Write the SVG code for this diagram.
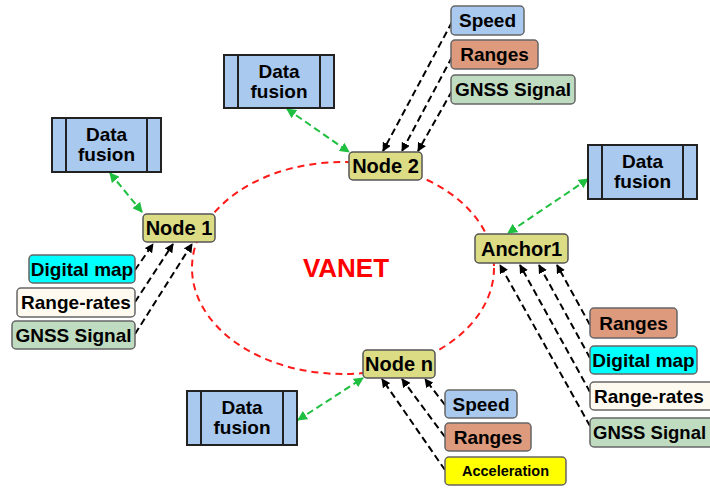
<svg xmlns="http://www.w3.org/2000/svg" width="710" height="488" viewBox="0 0 710 488">
<style>
.df rect{fill:#a9c9ef;stroke:#222;stroke-width:2}
.df line{stroke:#222;stroke-width:2}
.df text{font-family:"Liberation Sans",Arial,sans-serif;font-weight:bold;font-size:19px;fill:#000;text-anchor:middle}
.nd rect{fill:#dcdc84;stroke:#555;stroke-width:1.5}
.nd text{font-family:"Liberation Sans",Arial,sans-serif;font-weight:bold;font-size:20px;fill:#000;text-anchor:middle}
.in rect{stroke:#666;stroke-width:1.5}
.in text{font-family:"Liberation Sans",Arial,sans-serif;font-weight:bold;font-size:19px;fill:#000;text-anchor:middle}
.blk{stroke:#000;stroke-width:2;stroke-dasharray:7,4;fill:none;marker-end:url(#ab)}
.grn{stroke:#1fbf3f;stroke-width:2;stroke-dasharray:7,4;fill:none;marker-end:url(#ag);marker-start:url(#ag)}
.spd{fill:#a9c9ef}.rng{fill:#dd9a7c}.gns{fill:#c0dcc0}.dm{fill:#00ffff}.rr{fill:#fffaf0}.acc{fill:#ffff00}
</style>
<defs>
<marker id="ab" viewBox="0 0 10 10" refX="9" refY="5" markerWidth="9" markerHeight="9" markerUnits="userSpaceOnUse" orient="auto"><path d="M0,0 L10,5 L0,10 z" fill="#000"/></marker>
<marker id="ag" viewBox="0 0 10 10" refX="9" refY="5" markerWidth="10" markerHeight="10" markerUnits="userSpaceOnUse" orient="auto-start-reverse"><path d="M0,0 L10,5 L0,10 z" fill="#1fbf3f"/></marker>
</defs>
<rect width="710" height="488" fill="#fff"/>
<ellipse cx="343" cy="268" rx="151" ry="106" fill="none" stroke="#ff1a1a" stroke-width="2" stroke-dasharray="7,5"/>
<text x="346" y="277" font-family="'Liberation Sans',Arial,sans-serif" font-weight="bold" font-size="26" fill="#ff0000" text-anchor="middle">VANET</text>
<g id="connectors">
<line class="blk" x1="452" y1="22" x2="383" y2="151"/>
<line class="blk" x1="452" y1="57" x2="402" y2="151"/>
<line class="blk" x1="452" y1="91" x2="418" y2="151"/>
<line class="blk" x1="135" y1="270" x2="153" y2="244"/>
<line class="blk" x1="135" y1="302" x2="173" y2="244"/>
<line class="blk" x1="135" y1="334" x2="192" y2="244"/>
<line class="blk" x1="590" y1="325" x2="557" y2="265"/>
<line class="blk" x1="590" y1="358" x2="539" y2="265"/>
<line class="blk" x1="590" y1="392" x2="520" y2="265"/>
<line class="blk" x1="590" y1="426" x2="500" y2="265"/>
<line class="blk" x1="445" y1="405" x2="425" y2="379"/>
<line class="blk" x1="445" y1="437" x2="402" y2="379"/>
<line class="blk" x1="445" y1="470" x2="382" y2="379"/>
<line class="grn" x1="287" y1="109" x2="349" y2="152"/>
<line class="grn" x1="110" y1="173" x2="142" y2="212"/>
<line class="grn" x1="588" y1="179" x2="508" y2="233"/>
<line class="grn" x1="298" y1="420" x2="363" y2="378"/>
</g>
<g id="df-top" class="df"><rect x="224" y="55" width="110" height="53"/><line x1="238" y1="55" x2="238" y2="108"/><line x1="320" y1="55" x2="320" y2="108"/><text x="279" y="78">Data</text><text x="279" y="98">fusion</text></g>
<g id="df-left" class="df"><rect x="52" y="118" width="109" height="54"/><line x1="66" y1="118" x2="66" y2="172"/><line x1="147" y1="118" x2="147" y2="172"/><text x="106.5" y="141">Data</text><text x="106.5" y="161">fusion</text></g>
<g id="df-right" class="df"><rect x="588" y="145" width="109" height="54"/><line x1="602" y1="145" x2="602" y2="199"/><line x1="683" y1="145" x2="683" y2="199"/><text x="642.5" y="168">Data</text><text x="642.5" y="188">fusion</text></g>
<g id="df-bottom" class="df"><rect x="187" y="391" width="110" height="54"/><line x1="201" y1="391" x2="201" y2="445"/><line x1="283" y1="391" x2="283" y2="445"/><text x="242" y="414">Data</text><text x="242" y="434">fusion</text></g>
<g id="node1" class="nd"><rect x="143" y="214" width="72" height="28" rx="4"/><text x="179" y="235">Node 1</text></g>
<g id="node2" class="nd"><rect x="349" y="152" width="73" height="28" rx="4"/><text x="385.5" y="173">Node 2</text></g>
<g id="anchor1" class="nd"><rect x="475" y="234" width="93" height="29" rx="4"/><text x="521.5" y="256">Anchor1</text></g>
<g id="noden" class="nd"><rect x="363" y="350" width="72" height="28" rx="4"/><text x="399" y="371">Node n</text></g>
<g id="top-speed" class="in"><rect class="spd" x="451" y="6" width="73" height="29" rx="4"/><text x="487.5" y="27">Speed</text></g>
<g id="top-ranges" class="in"><rect class="rng" x="451" y="40" width="87" height="29" rx="4"/><text x="494.5" y="61">Ranges</text></g>
<g id="top-gnss" class="in"><rect class="gns" x="451" y="75" width="124" height="29" rx="4"/><text x="513" y="96">GNSS Signal</text></g>
<g id="left-dm" class="in"><rect class="dm" x="29" y="255" width="106" height="28" rx="4"/><text x="82" y="276">Digital map</text></g>
<g id="left-rr" class="in"><rect class="rr" x="17" y="288" width="118" height="29" rx="4"/><text x="76" y="309">Range-rates</text></g>
<g id="left-gnss" class="in"><rect class="gns" x="12" y="321" width="123" height="28" rx="4"/><text x="73.5" y="342">GNSS Signal</text></g>
<g id="right-ranges" class="in"><rect class="rng" x="590" y="308" width="87" height="30" rx="4"/><text x="633.5" y="330">Ranges</text></g>
<g id="right-dm" class="in"><rect class="dm" x="590" y="346" width="107" height="28" rx="4"/><text x="643.5" y="367">Digital map</text></g>
<g id="right-rr" class="in"><rect class="rr" x="590" y="382" width="125" height="28" rx="4"/><text x="594" y="403" style="text-anchor:start">Range-rates</text></g>
<g id="right-gnss" class="in"><rect class="gns" x="590" y="418" width="125" height="29" rx="4"/><text x="593" y="439" style="text-anchor:start;font-size:18.5px">GNSS Signal</text></g>
<g id="bot-speed" class="in"><rect class="spd" x="445" y="390" width="72" height="28" rx="4"/><text x="481" y="411">Speed</text></g>
<g id="bot-ranges" class="in"><rect class="rng" x="445" y="423" width="86" height="28" rx="4"/><text x="488" y="444">Ranges</text></g>
<g id="bot-acc" class="in"><rect class="acc" x="445" y="457" width="121" height="28" rx="4"/><text x="505.5" y="476" style="font-size:14.5px">Acceleration</text></g>
</svg>
